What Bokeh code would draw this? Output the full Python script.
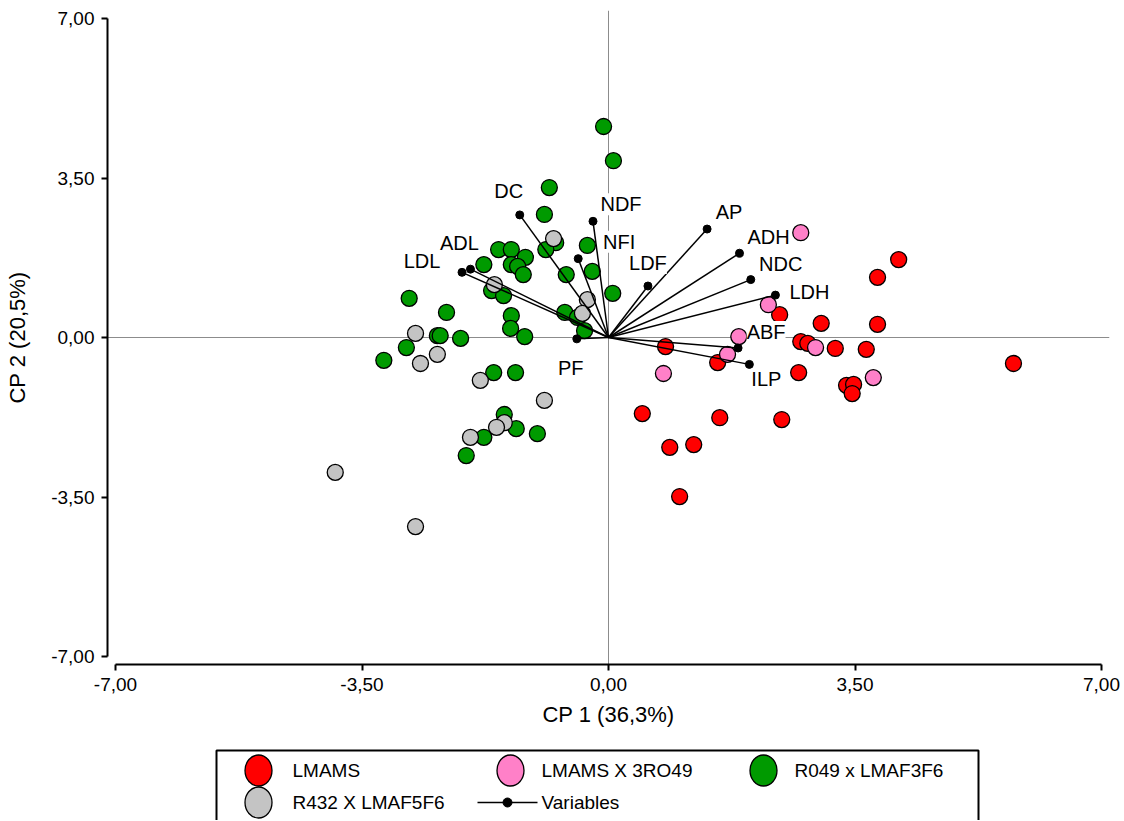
from bokeh.plotting import figure
from bokeh.models import Range1d, FixedTicker, Span, ColumnDataSource, LabelSet
from bokeh.layouts import column
from bokeh.embed import file_html
from bokeh.resources import INLINE
from bokeh.core.properties import value

FONT = "Liberation Sans"

# ---------------- data ----------------
axis_ticks = [-7.0, -3.5, 0.0, 3.5, 7.0]
axis_tick_labels = ["-7,00", "-3,50", "0,00", "3,50", "7,00"]
x_title = "CP 1 (36,3%)"
y_title = "CP 2 (20,5%)"

group_names = ["LMAMS", "LMAMS X 3RO49", "R049 x LMAF3F6", "R432 X LMAF5F6"]
variables_name = "Variables"

lmams_x = [4.12, 3.82, 2.43, 3.02, 3.82, 0.81, 2.73, 2.83, 3.22, 3.66, 1.55,
           2.70, 3.38, 3.48, 3.46, 5.75, 0.48, 1.58, 2.46, 0.87, 1.21, 1.01]
lmams_y = [1.71, 1.32, 0.50, 0.31, 0.29, -0.20, -0.09, -0.13, -0.24, -0.26, -0.55,
           -0.77, -1.05, -1.03, -1.23, -0.57, -1.67, -1.76, -1.80, -2.41, -2.35, -3.49]

cross_x = [2.73, 2.27, 1.85, 1.69, 2.94, 0.78, 3.76]
cross_y = [2.30, 0.72, 0.02, -0.37, -0.22, -0.79, -0.88]

r049_x = [-0.07, 0.07, -0.84, -0.91, -0.75, -0.89, -0.30, -1.56, -1.38, -1.18,
          -1.38, -1.29, -1.21, -1.77, -0.23, -0.60, 0.06, -1.66, -1.49, -2.83,
          -2.30, -0.62, -0.44, -1.38, -1.39, -1.19, -0.34, -2.43, -2.39, -2.10,
          -2.87, -3.19, -1.63, -1.32, -1.48, -1.31, -1.01, -1.77, -2.02]
r049_y = [4.63, 3.88, 3.29, 2.70, 2.08, 1.93, 2.02, 1.93, 1.93, 1.76,
          1.60, 1.56, 1.38, 1.60, 1.45, 1.38, 0.97, 1.03, 0.92, 0.86,
          0.55, 0.55, 0.44, 0.48, 0.20, 0.02, 0.15, 0.04, 0.04, -0.02,
          -0.22, -0.50, -0.77, -0.77, -1.69, -2.00, -2.11, -2.19, -2.59]

r432_x = [-0.78, -1.62, -0.30, -0.37, -2.74, -2.43, -2.67, -1.82, -0.91, -1.48,
          -1.59, -1.96, -3.88, -2.74]
r432_y = [2.17, 1.16, 0.83, 0.53, 0.09, -0.37, -0.57, -0.94, -1.38, -1.87,
          -1.97, -2.19, -2.96, -4.15]

var_names = ["DC", "NDF", "NFI", "ADL", "LDL", "PF", "AP", "ADH", "LDF",
             "NDC", "LDH", "ABF", "ILP"]
var_x = [-1.26, -0.22, -0.43, -1.96, -2.08, -0.45, 1.40, 1.86, 0.56,
         2.02, 2.37, 1.84, 2.00]
var_y = [2.69, 2.55, 1.73, 1.50, 1.43, -0.03, 2.38, 1.85, 1.13,
         1.27, 0.93, -0.23, -0.59]

# ---------------- styles / layout ----------------
group_colors = ["#FF0000", "#FF80C8", "#009A00", "#C4C4C4"]
label_dx = [-11, 28, 41, -11, -40, -6, 22, 29, 0, 30, 34, 28, 17]
label_dy = [24, 17, 17, 26, 11, -29, 17, 16, 23, 16, 3, 16, -15]

FIG_W = 1122
BORDER_L, BORDER_R = 107, FIG_W - 1109
FRAME_W, FRAME_H = 1002, 654
PAD_PX = 8
x_pad = PAD_PX * 14.0 / (FRAME_W - 2 * PAD_PX)
y_pad = PAD_PX * 14.0 / (FRAME_H - 2 * PAD_PX)

p = figure(width=FIG_W, height=748, output_backend="svg", toolbar_location=None,
           x_range=Range1d(-7 - x_pad, 7 + x_pad),
           y_range=Range1d(-7 - y_pad, 7 + y_pad),
           min_border_left=BORDER_L, min_border_right=BORDER_R, min_border_top=10,
           min_border_bottom=84)
p.xgrid.visible = False
p.ygrid.visible = False
p.outline_line_color = None
p.background_fill_color = "white"

for ax in (p.xaxis[0], p.yaxis[0]):
    ax.ticker = FixedTicker(ticks=axis_ticks)
    ax.major_label_overrides = dict(zip(axis_ticks, axis_tick_labels))
    ax.bounds = (-7, 7)
    ax.axis_line_color = "black"
    ax.axis_line_width = 2
    ax.major_tick_line_color = "black"
    ax.major_tick_line_width = 2
    ax.major_tick_out = 6
    ax.major_tick_in = 0
    ax.minor_tick_line_color = None
    ax.major_label_text_font = FONT
    ax.major_label_text_font_size = "19px"
    ax.major_label_text_color = "black"
    ax.major_label_standoff = 7
    ax.axis_label_text_font = FONT
    ax.axis_label_text_font_size = "22px"
    ax.axis_label_text_font_style = "normal"
    ax.axis_label_text_color = "black"

p.xaxis[0].axis_label = x_title
p.yaxis[0].axis_label = y_title
p.xaxis[0].axis_label_standoff = 8
p.yaxis[0].axis_label_standoff = 18

p.add_layout(Span(location=0, dimension="width", line_color="#8C8C8C",
                  line_width=1, level="underlay"))
p.add_layout(Span(location=0, dimension="height", line_color="#8C8C8C",
                  line_width=1, level="underlay"))

for gx, gy, col in zip([lmams_x, cross_x, r049_x, r432_x],
                       [lmams_y, cross_y, r049_y, r432_y], group_colors):
    p.scatter(gx, gy, size=16, fill_color=col, line_color="black", line_width=1.3)

vsrc = ColumnDataSource(dict(x0=[0.0] * len(var_x), y0=[0.0] * len(var_y),
                             x=var_x, y=var_y, name=var_names,
                             dx=label_dx, dy=label_dy))
p.segment(x0="x0", y0="y0", x1="x", y1="y", source=vsrc,
          line_color="black", line_width=1.5)
p.scatter("x", "y", source=vsrc, size=8, fill_color="black", line_color="black")

p.add_layout(LabelSet(x="x", y="y", text="name", x_offset="dx", y_offset="dy",
                      source=vsrc, text_align="center", text_baseline="middle",
                      text_font=value(FONT), text_font_size="20px",
                      text_color="black", background_fill_color="white"))

# ---------------- legend (page-pixel coordinates) ----------------
leg = figure(width=FIG_W, height=72, output_backend="svg", toolbar_location=None,
             x_range=Range1d(BORDER_L, FIG_W - BORDER_R), y_range=Range1d(820, 748),
             x_axis_type=None, y_axis_type=None,
             min_border_left=BORDER_L, min_border_right=BORDER_R, min_border_top=0,
             min_border_bottom=0)
leg.outline_line_color = None
leg.xgrid.visible = False
leg.ygrid.visible = False

leg.quad(left=[216], right=[978], top=[750], bottom=[840],
         fill_color=None, line_color="black", line_width=2)

mk_x = [258, 510, 763, 258]
mk_y = [770, 770, 770, 802]
txt_x = [292, 541, 794, 292]
leg.ellipse(x=mk_x, y=mk_y, width=27, height=31, fill_color=group_colors,
            line_color="black", line_width=1.3)
leg.text(x=txt_x, y=mk_y, text=group_names, text_font=value(FONT),
         text_font_size="19px", text_baseline="middle", text_align="left",
         text_color="black")
leg.segment(x0=[477], y0=[802], x1=[537], y1=[802], line_color="black",
            line_width=1.5)
leg.scatter(x=[507], y=[802], size=9, fill_color="black", line_color="black")
leg.text(x=[541], y=[802], text=[variables_name], text_font=value(FONT),
         text_font_size="19px", text_baseline="middle", text_align="left",
         text_color="black")

layout = column(p, leg)
open("out.html", "w").write(file_html(layout, INLINE))
